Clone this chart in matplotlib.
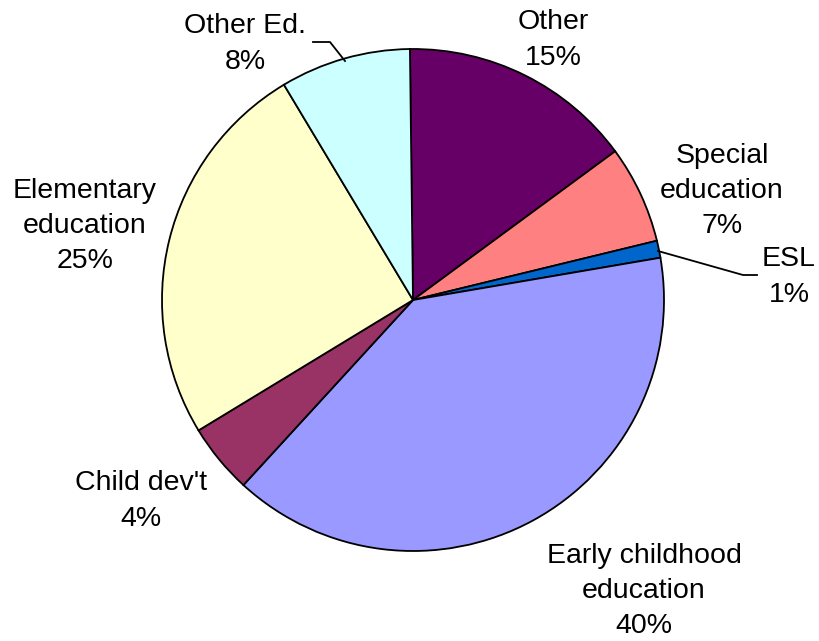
"""Pie chart of education fields."""

import matplotlib
matplotlib.use("Agg")
import matplotlib.pyplot as plt

# Data
names = ["Other", "Special\neducation", "ESL", "Early childhood\neducation",
         "Child dev't", "Elementary\neducation", "Other Ed."]
shares = [15.1, 6.3, 1.1, 39.5, 4.5, 25.1, 8.4]
pct_labels = ["15%", "7%", "1%", "40%", "4%", "25%", "8%"]
colors = ["#660066", "#FF8080", "#0066CC", "#9999FF", "#993366", "#FFFFCC", "#CCFFFF"]

# label centres in pixel coords (x, y from top)
label_pos = [(553, 40), (722, 191), (789, 277), (644, 591),
             (141, 501), (85, 226), (245, 44)]

W, H = 819, 641
fig = plt.figure(figsize=(W / 100, H / 100), dpi=100)
ax = fig.add_axes([0, 0, 1, 1])

ax.pie(shares, colors=colors, startangle=90.7, counterclock=False,
       center=(413, H - 300), radius=251,
       wedgeprops=dict(edgecolor="black", linewidth=1.3))

# pie() resets the limits, so set them afterwards
ax.set_xlim(0, W)
ax.set_ylim(0, H)
ax.set_aspect("equal")
ax.axis("off")

for name, pct, (x, y) in zip(names, pct_labels, label_pos):
    ax.text(x, H - y, name + "\n" + pct, ha="center", va="center",
            fontsize=20.5, family="Liberation Sans", linespacing=1.47)

# leader lines
ax.plot([313, 330, 345], [H - 42, H - 42, H - 61], color="black", lw=1.3)
ax.plot([658, 743, 757], [H - 251, H - 275, H - 275], color="black", lw=1.3)

fig.savefig("out.png", dpi=100)
